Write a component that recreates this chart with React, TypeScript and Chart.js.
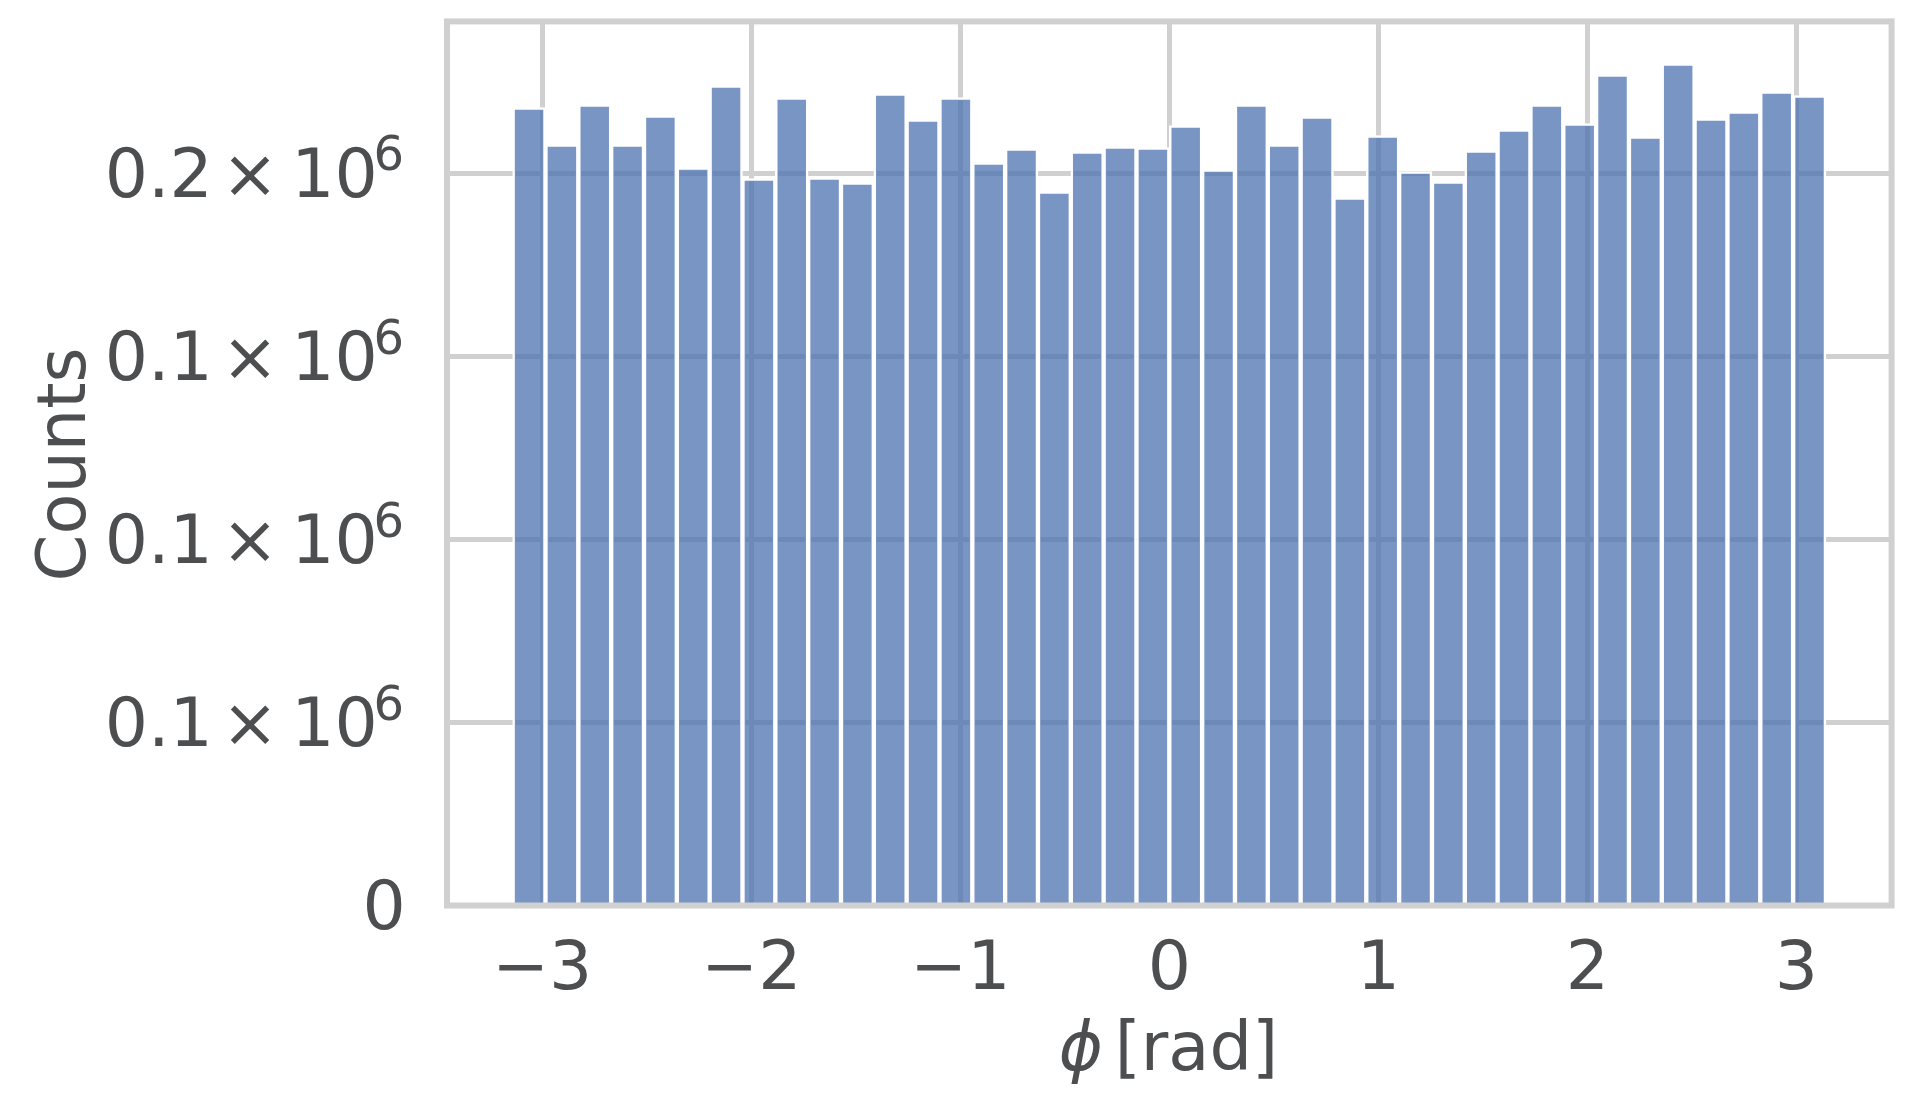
import { useEffect, useRef } from 'react';
import { Chart, registerables } from 'chart.js';

Chart.register(...registerables);

// 40 bins over [-pi, pi]
const BIN_CENTERS = [
  -3.0631, -2.906, -2.7489, -2.5918, -2.4347, -2.2777, -2.1206, -1.9635, -1.8064, -1.6493,
  -1.4923, -1.3352, -1.1781, -1.021, -0.8639, -0.7069, -0.5498, -0.3927, -0.2356, -0.0785,
  0.0785, 0.2356, 0.3927, 0.5498, 0.7069, 0.8639, 1.021, 1.1781, 1.3352, 1.4923,
  1.6493, 1.8064, 1.9635, 2.1206, 2.2777, 2.4347, 2.5918, 2.7489, 2.906, 3.0631,
];
const COUNTS = [
  217910, 207810, 218730, 207810, 215730, 201530, 223920, 198520, 220640, 198800,
  197430, 221730, 214630, 220640, 202890, 206710, 194970, 205890, 207260, 206990,
  212990, 200980, 218730, 207810, 215450, 193330, 210260, 200430, 197700, 206170,
  211900, 218730, 213540, 226920, 209990, 229920, 214910, 216820, 222280, 221190,
];

const X_TICKS = [-3, -2, -1, 0, 1, 2, 3];
const X_TICK_LABELS = ['\u22123', '\u22122', '\u22121', '0', '1', '2', '3'];
const Y_TICKS = [0, 50000, 100000, 150000, 200000];
// mantissa shown by the %.1f formatter, then "× 10^6"
const Y_TICK_MANTISSA = ['0', '0.1', '0.1', '0.1', '0.2'];
const Y_TICK_TIMES = '\u00d7';
const Y_TICK_BASE = '10';
const Y_TICK_EXP = '6';
const X_TITLE_SYMBOL = '\u03d5';
const X_TITLE_UNIT = '[rad]';
const Y_TITLE = 'Counts';

const FONT = "'DejaVu Sans'";
const TEXT = '#4d4e50';
const GRID = '#d0d0d0';
const BAR = 'rgba(76,114,176,0.75)';

const frame = {
  id: 'frame',
  afterDatasetsDraw(chart: Chart) {
    const { ctx, chartArea: a } = chart;
    ctx.save();
    ctx.strokeStyle = GRID;
    ctx.lineWidth = 6;
    ctx.strokeRect(a.left, a.top, a.right - a.left, a.bottom - a.top);
    ctx.restore();
  },
};

// place a string by its ink box
function inkAt(ctx: CanvasRenderingContext2D, s: string, x: number, y: number, anchor: 'left' | 'center' | 'right') {
  const m = ctx.measureText(s);
  const w = m.actualBoundingBoxLeft + m.actualBoundingBoxRight;
  const left = anchor === 'left' ? x : anchor === 'center' ? x - w / 2 : x - w;
  ctx.fillText(s, left + m.actualBoundingBoxLeft, y);
}

const labels = {
  id: 'labels',
  afterDraw(chart: Chart) {
    const { ctx, chartArea: a } = chart;
    const yScale = chart.scales.y;
    ctx.save();
    ctx.fillStyle = TEXT;
    ctx.textBaseline = 'alphabetic';
    ctx.textAlign = 'left';

    // y tick labels: mantissa × 10^6
    const R = a.left - 45.4;
    Y_TICKS.forEach((v, i) => {
      const py = yScale.getPixelForValue(v);
      const base = py + 23.5;
      ctx.font = `68px ${FONT}`;
      if (v === 0) { inkAt(ctx, Y_TICK_MANTISSA[i], R, base, 'right'); return; }
      inkAt(ctx, Y_TICK_MANTISSA[i], R - 244, base, 'center');
      inkAt(ctx, Y_TICK_TIMES, R - 151.7, base, 'center');
      inkAt(ctx, Y_TICK_BASE, R - 103.4, base, 'left');
      ctx.font = `48px ${FONT}`;
      const me = ctx.measureText(Y_TICK_EXP);
      inkAt(ctx, Y_TICK_EXP, R, py - 1.6 - me.actualBoundingBoxDescent, 'right');
    });

    // x title: italic symbol + upright unit
    ctx.font = `italic 67px ${FONT}`;
    const m1 = ctx.measureText(X_TITLE_SYMBOL);
    ctx.font = `67px ${FONT}`;
    const m2 = ctx.measureText(X_TITLE_UNIT);
    const w1 = m1.actualBoundingBoxLeft + m1.actualBoundingBoxRight;
    const w2 = m2.actualBoundingBoxLeft + m2.actualBoundingBoxRight;
    const gap = 18;
    const start = (a.left + a.right) / 2 - 3 - (w1 + gap + w2) / 2;
    const baseX = 1070;
    ctx.font = `italic 67px ${FONT}`;
    ctx.fillText(X_TITLE_SYMBOL, start + m1.actualBoundingBoxLeft, baseX);
    ctx.font = `67px ${FONT}`;
    ctx.fillText(X_TITLE_UNIT, start + w1 + gap + m2.actualBoundingBoxLeft, baseX);

    // y title
    ctx.translate(85, (a.top + a.bottom) / 2 + 1);
    ctx.rotate(-Math.PI / 2);
    ctx.textAlign = 'center';
    ctx.fillText(Y_TITLE, 0, 0);
    ctx.restore();
  },
};

export default function App() {
  const ref = useRef<HTMLCanvasElement>(null);
  const ci = useRef<Chart | null>(null);

  useEffect(() => {
    if (!ref.current) return;
    ci.current?.destroy();
    const yMax = Math.max(...COUNTS) * 1.05;
    ci.current = new Chart(ref.current, {
      type: 'bar',
      data: {
        datasets: [{
          data: BIN_CENTERS.map((x, i) => ({ x, y: COUNTS[i] })),
          backgroundColor: BAR,
          borderColor: '#ffffff',
          borderWidth: { left: 2.5, right: 2.5, top: 2.5, bottom: 0 },
          borderSkipped: 'start',
          barPercentage: 1,
          categoryPercentage: 1,
        }],
      },
      options: {
        animation: false,
        responsive: true,
        maintainAspectRatio: false,
        layout: { padding: { top: 21.4, right: 26.4, left: 0, bottom: 0 } },
        plugins: { legend: { display: false }, tooltip: { enabled: false } },
        scales: {
          x: {
            type: 'linear',
            min: -Math.PI * 1.1,
            max: Math.PI * 1.1,
            offset: false,
            afterBuildTicks: (s: any) => { s.ticks = X_TICKS.map(v => ({ value: v })); },
            afterFit: (s: any) => { s.height = 207.5; s.paddingLeft = 0; s.paddingRight = 0; },
            grid: { color: GRID, lineWidth: 5, drawTicks: false, offset: false },
            border: { display: false },
            ticks: {
              padding: 25,
              color: TEXT,
              font: { family: FONT, size: 68 },
              maxRotation: 0,
              autoSkip: false,
              callback: (_v: any, i: number) => X_TICK_LABELS[i],
            },
          },
          y: {
            min: 0,
            max: yMax,
            afterBuildTicks: (s: any) => { s.ticks = Y_TICKS.map(v => ({ value: v })); },
            afterFit: (s: any) => { s.width = 447; s.paddingTop = 0; s.paddingBottom = 0; },
            grid: { color: GRID, lineWidth: 5, drawTicks: false },
            border: { display: false },
            ticks: { display: false },
          },
        },
      },
      plugins: [frame, labels],
    });
    return () => { ci.current?.destroy(); ci.current = null; };
  }, []);

  return (
    <div style={{ position: 'absolute', left: 0, top: 0, width: 1918, height: 1113, background: '#ffffff' }}>
      <canvas ref={ref} />
    </div>
  );
}
